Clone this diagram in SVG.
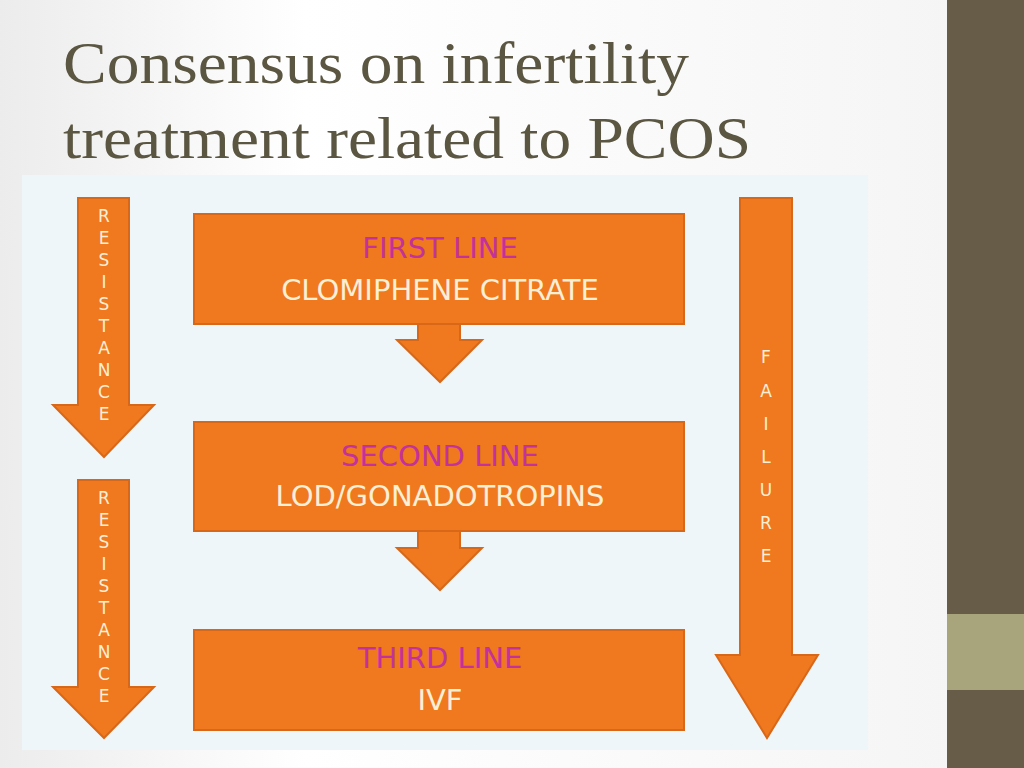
<svg xmlns="http://www.w3.org/2000/svg" width="1024" height="768" viewBox="0 0 1024 768">
<defs>
<style>
.o{fill:#f0781e;stroke:#d86818;stroke-width:2}
.h{font-family:"DejaVu Sans",sans-serif;font-size:29px;fill:#c2319c;text-anchor:middle}
.w{font-family:"DejaVu Sans",sans-serif;font-size:29px;fill:#fbefd6;text-anchor:middle}
.v{font-family:"DejaVu Sans",sans-serif;font-size:17px;fill:#fbefd6;text-anchor:middle}
.t{font-family:"Liberation Serif",serif;font-size:60px;fill:#5b5641}
</style>
<linearGradient id="bg" x1="0" y1="0" x2="1" y2="0"><stop offset="0" stop-color="#ececec"/><stop offset="0.3" stop-color="#ffffff"/><stop offset="1" stop-color="#f4f4f4"/></linearGradient>
</defs>
<rect width="1024" height="768" fill="url(#bg)"/>
<rect x="947" y="0" width="77" height="768" fill="#665c47"/>
<rect x="947" y="614" width="77" height="76" fill="#a8a47c"/>
<text class="t" x="63" y="83" textLength="626" lengthAdjust="spacingAndGlyphs">Consensus on infertility</text>
<text class="t" x="63" y="158" textLength="688" lengthAdjust="spacingAndGlyphs">treatment related to PCOS</text>
<rect x="22" y="175" width="846" height="575" fill="#eef6fa"/>
<g id="connectors">
<polygon class="o" points="78,198 129,198 129,405 154,405 104,457 53,405 78,405"/>
<polygon class="o" points="78,480 129,480 129,687 154,687 104,738 53,687 78,687"/>
<polygon class="o" points="740,198 792,198 792,655 818,655 767,738 716,655 740,655"/>
<polygon class="o" points="418,324 460,324 460,340 482,340 440,382 397,340 418,340"/>
<polygon class="o" points="418,531 460,531 460,548 482,548 440,590 397,548 418,548"/>
<text class="v" x="104" y="222">R</text><text class="v" x="104" y="244">E</text><text class="v" x="104" y="266">S</text><text class="v" x="104" y="288">I</text><text class="v" x="104" y="310">S</text><text class="v" x="104" y="332">T</text><text class="v" x="104" y="354">A</text><text class="v" x="104" y="376">N</text><text class="v" x="104" y="398">C</text><text class="v" x="104" y="420">E</text>
<text class="v" x="104" y="504">R</text><text class="v" x="104" y="526">E</text><text class="v" x="104" y="548">S</text><text class="v" x="104" y="570">I</text><text class="v" x="104" y="592">S</text><text class="v" x="104" y="614">T</text><text class="v" x="104" y="636">A</text><text class="v" x="104" y="658">N</text><text class="v" x="104" y="680">C</text><text class="v" x="104" y="702">E</text>
<text class="v" x="766" y="363">F</text><text class="v" x="766" y="397">A</text><text class="v" x="766" y="430">I</text><text class="v" x="766" y="463">L</text><text class="v" x="766" y="496">U</text><text class="v" x="766" y="529">R</text><text class="v" x="766" y="562">E</text>
</g>
<g id="n1"><rect class="o" x="194" y="214" width="490" height="110"/><text class="h" x="440" y="258">FIRST LINE</text><text class="w" x="440" y="300">CLOMIPHENE CITRATE</text></g>
<g id="n2"><rect class="o" x="194" y="422" width="490" height="109"/><text class="h" x="440" y="466">SECOND LINE</text><text class="w" x="440" y="506">LOD/GONADOTROPINS</text></g>
<g id="n3"><rect class="o" x="194" y="630" width="490" height="100"/><text class="h" x="440" y="668">THIRD LINE</text><text class="w" x="440" y="710">IVF</text></g>
</svg>
